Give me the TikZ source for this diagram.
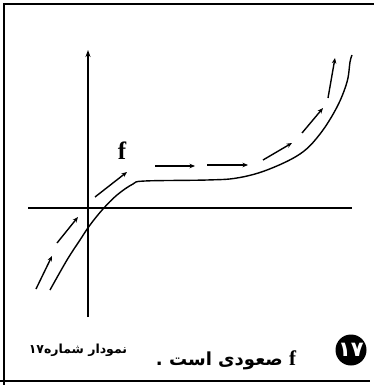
\documentclass[tikz,border=0pt]{standalone}
\usepackage{fontspec}
\setmainfont{Liberation Serif}
\newfontfamily\arabicfont[Script=Arabic]{DejaVu Sans}
\TeXXeTstate=1
\usetikzlibrary{arrows.meta}
\tikzset{
  frameline/.style={line width=1.2pt},
  axisline/.style={line width=1.6pt},
  curveline/.style={line width=1.4pt},
  flowarrow/.style={line width=1.4pt,-{Stealth[length=5.5pt,width=4.5pt]}},
}
\begin{document}
\begin{tikzpicture}[x=1pt,y=-1pt]
\useasboundingbox (0,0) rectangle (374,385);
% frame
\draw[frameline] (4,385) -- (4,4) -- (374,4);
\draw[frameline] (0,381) -- (370,381);
% axes
\draw[axisline] (28,208) -- (352,208);
\draw[axisline,-{Stealth[length=7pt,width=5pt]}] (88,317) -- (88,50);
% curve
\draw[curveline] plot[smooth,tension=0.6] coordinates {
  (50,290) (67,260) (80,240) (90,225) (103,209) (117,195) (133,184) (145,181)
  (207,180) (237,178) (267,170) (300,154) (320,134) (337,107) (347,82) (350,62) (352,55)};
% arrows along curve
\draw[flowarrow] (36,289) -- (52,256);
\draw[flowarrow] (57,243) -- (78,217);
\draw[flowarrow] (95,197) -- (127,172);
\draw[flowarrow] (155,166) -- (195,166);
\draw[flowarrow] (207,165) -- (248,165);
\draw[flowarrow] (263,160) -- (292,143);
\draw[flowarrow] (302,133) -- (323,108);
\draw[flowarrow] (328,98) -- (335,58);
% label f
\node (flabel) at (122,151) {\fontsize{25}{25}\selectfont\bfseries f};
% bottom texts
\node (caption) at (78,350) {\fontsize{12.5}{13}\selectfont\arabicfont\bfseries\beginR نمودار شماره۱۷\endR};
\node (statement) at (226,360) {\fontsize{18}{19}\selectfont\arabicfont\bfseries\beginR{\rmfamily\fontsize{21}{21}\selectfont f} صعودی است .\endR};
\node[circle,fill=black,minimum size=31pt,inner sep=0pt,text=white] (num) at (351,350)
  {\fontsize{21}{21}\selectfont\arabicfont\bfseries ۱۷};
\end{tikzpicture}
\end{document}
